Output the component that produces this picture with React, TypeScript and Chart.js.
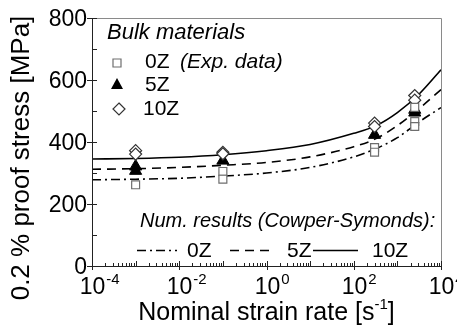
import React, { useEffect, useRef } from "react";
import { Chart, registerables } from "chart.js";

Chart.register(...registerables);

// Measured 0.2 % proof stress (MPa) — repeated tests share a strain rate (1/s)
const rates0Z = [0.001, 0.1, 0.1, 300, 300, 2500, 2500, 2500];
const stress0Z = [262, 305, 280, 382, 367, 512, 466, 450];
const rates5Z = [0.001, 0.001, 0.1, 300, 2500, 2500];
const stress5Z = [321, 307, 340, 423, 504, 495];
const rates10Z = [0.001, 0.001, 0.1, 0.1, 300, 300, 2500, 2500];
const stress10Z = [372, 361, 367, 362, 461, 450, 550, 535];

// Cowper-Symonds model curves, sampled along the rate axis
const fitRates = [1e-4, 1e-3, 1e-2, 1e-1, 1, 10, 100, 316, 1000, 3162, 1e4];
const fit0Z = [278, 280, 283, 290, 300, 318, 352, 378, 414, 465, 511];
const fit5Z = [312, 314, 318, 325, 334, 352, 385, 410, 453, 508, 569];
const fit10Z = [345, 347, 351, 359, 372, 392, 428, 452, 495, 555, 633];

const yTicks = [0, 200, 400, 600, 800];
const xTickExponents = [-4, -2, 0, 2, 4];

const FONT = "'Liberation Sans', Arial, Helvetica, sans-serif";
const DASH_DOT = [9, 4, 2, 4];
const DASHED = [9, 6];

const pts = (xs: number[], ys: number[]) => xs.map((x, i) => ({ x, y: ys[i] }));

function line(ctx: CanvasRenderingContext2D, x1: number, y1: number, x2: number, y2: number) {
  ctx.beginPath();
  ctx.moveTo(x1, y1);
  ctx.lineTo(x2, y2);
  ctx.stroke();
}

const axesAndKeys = {
  id: "axesAndKeys",
  afterDraw(chart: any) {
    const { ctx, chartArea: a, scales } = chart;
    const xs = scales.x;
    const ys = scales.y;
    ctx.save();

    // plot frame
    ctx.lineWidth = 1;
    ctx.strokeStyle = "#8a8a8a";
    ctx.beginPath();
    ctx.moveTo(a.left, a.top + 0.5);
    ctx.lineTo(a.right + 0.5, a.top + 0.5);
    ctx.lineTo(a.right + 0.5, a.bottom);
    ctx.stroke();
    ctx.strokeStyle = "#222";
    ctx.beginPath();
    ctx.moveTo(a.left + 0.5, a.top);
    ctx.lineTo(a.left + 0.5, a.bottom + 0.5);
    ctx.lineTo(a.right, a.bottom + 0.5);
    ctx.stroke();

    // y ticks: inner every 100, outer on labelled values
    for (let v = 0; v <= 800; v += 100) {
      const py = Math.round(ys.getPixelForValue(v)) + 0.5;
      line(ctx, a.left, py, a.left + 5, py);
    }
    ctx.fillStyle = "#000";
    ctx.font = `23px ${FONT}`;
    ctx.textAlign = "right";
    ctx.textBaseline = "middle";
    yTicks.forEach((v) => {
      const py = Math.round(ys.getPixelForValue(v)) + 0.5;
      line(ctx, a.left - 5, py, a.left, py);
      ctx.fillText(String(v), a.left - 5, py + 1);
    });

    // x ticks: decades and minor 2..9
    for (let d = -4; d <= 4; d++) {
      const px = Math.round(xs.getPixelForValue(Math.pow(10, d))) + 0.5;
      line(ctx, px, a.bottom, px, a.bottom - 5);
      if (d < 4) {
        for (let m = 2; m <= 9; m++) {
          const pm = Math.round(xs.getPixelForValue(m * Math.pow(10, d))) + 0.5;
          line(ctx, pm, a.bottom, pm, a.bottom - 3);
        }
      }
    }
    ctx.textBaseline = "alphabetic";
    xTickExponents.forEach((e) => {
      const px = Math.round(xs.getPixelForValue(Math.pow(10, e))) + 0.5;
      line(ctx, px, a.bottom, px, a.bottom + 4);
      ctx.font = `23px ${FONT}`;
      ctx.textAlign = "center";
      const w = ctx.measureText("10").width;
      ctx.fillText("10", px, a.bottom + 28);
      ctx.font = `15px ${FONT}`;
      ctx.textAlign = "left";
      ctx.fillText(String(e), px + w / 2 + 1, a.bottom + 18);
    });

    // x axis title with superscript
    const t1 = "Nominal strain rate [s";
    const sup = "-1";
    const t2 = "]";
    ctx.font = `25px ${FONT}`;
    const w1 = ctx.measureText(t1).width;
    const w3 = ctx.measureText(t2).width;
    ctx.font = `15px ${FONT}`;
    const w2 = ctx.measureText(sup).width;
    const cx = (a.left + a.right) / 2;
    let sx = cx - (w1 + w2 + w3) / 2;
    const base = 320;
    ctx.textAlign = "left";
    ctx.font = `25px ${FONT}`;
    ctx.fillText(t1, sx, base);
    sx += w1;
    ctx.font = `15px ${FONT}`;
    ctx.fillText(sup, sx, base - 11);
    sx += w2;
    ctx.font = `25px ${FONT}`;
    ctx.fillText(t2, sx, base);

    // y axis title
    ctx.save();
    ctx.translate(22, 158);
    ctx.rotate(-Math.PI / 2);
    ctx.textAlign = "center";
    ctx.textBaseline = "middle";
    ctx.font = `26px ${FONT}`;
    ctx.fillText("0.2 % proof stress [MPa]", 0, 0);
    ctx.restore();

    // key: experimental data
    ctx.textAlign = "left";
    ctx.textBaseline = "alphabetic";
    ctx.font = `italic 22px ${FONT}`;
    ctx.fillText("Bulk materials", 107, 39);

    // square
    ctx.lineWidth = 1.2;
    ctx.strokeStyle = "#6e6e6e";
    ctx.fillStyle = "#fff";
    ctx.beginPath();
    ctx.rect(113, 59, 8, 8);
    ctx.fill();
    ctx.stroke();
    ctx.fillStyle = "#000";
    ctx.font = `21px ${FONT}`;
    ctx.fillText("0Z", 145, 68);
    ctx.font = `italic 21px ${FONT}`;
    ctx.fillText("(Exp. data)", 180, 68);

    // triangle
    ctx.fillStyle = "#000";
    ctx.beginPath();
    ctx.moveTo(117, 78);
    ctx.lineTo(123, 89);
    ctx.lineTo(111, 89);
    ctx.closePath();
    ctx.fill();
    ctx.font = `21px ${FONT}`;
    ctx.fillText("5Z", 145, 91);

    // diamond
    ctx.strokeStyle = "#333";
    ctx.fillStyle = "#fff";
    ctx.beginPath();
    ctx.moveTo(119, 103);
    ctx.lineTo(125, 109);
    ctx.lineTo(119, 115);
    ctx.lineTo(113, 109);
    ctx.closePath();
    ctx.fill();
    ctx.stroke();
    ctx.fillStyle = "#000";
    ctx.fillText("10Z", 143, 115);

    // key: model curves
    ctx.font = `italic 20px ${FONT}`;
    ctx.fillText("Num. results (Cowper-Symonds):", 140, 227);
    ctx.strokeStyle = "#000";
    ctx.lineWidth = 1.5;
    const ly = 250.5;
    ctx.setLineDash(DASH_DOT);
    line(ctx, 137, ly, 177, ly);
    ctx.setLineDash(DASHED);
    line(ctx, 230, ly, 275, ly);
    ctx.setLineDash([]);
    line(ctx, 313, ly, 358, ly);
    ctx.font = `21px ${FONT}`;
    ctx.fillText("0Z", 187, 257);
    ctx.fillText("5Z", 287, 257);
    ctx.fillText("10Z", 372, 257);

    ctx.restore();
  },
};

export default function App() {
  const ref = useRef<HTMLCanvasElement>(null);

  useEffect(() => {
    const canvas = ref.current;
    if (!canvas) return;
    const chart = new Chart(canvas, {
      type: "scatter",
      data: {
        datasets: [
          {
            label: "0Z (Exp. data)",
            data: pts(rates0Z, stress0Z),
            pointStyle: "rect",
            pointRadius: 5.6,
            borderColor: "#6e6e6e",
            backgroundColor: "#fff",
            borderWidth: 1.2,
            order: 1,
          },
          {
            label: "10Z",
            data: pts(rates10Z, stress10Z),
            pointStyle: "rectRot",
            pointRadius: 6,
            borderColor: "#333",
            backgroundColor: "#fff",
            borderWidth: 1.2,
            order: 2,
          },
          {
            label: "5Z",
            data: pts(rates5Z, stress5Z),
            pointStyle: "triangle",
            pointRadius: 7,
            borderColor: "#000",
            backgroundColor: "#000",
            borderWidth: 1,
            order: 3,
          },
          {
            label: "0Z model",
            data: pts(fitRates, fit0Z),
            showLine: true,
            pointRadius: 0,
            borderColor: "#000",
            borderWidth: 1.6,
            borderDash: DASH_DOT,
            cubicInterpolationMode: "monotone",
            order: 4,
          },
          {
            label: "5Z model",
            data: pts(fitRates, fit5Z),
            showLine: true,
            pointRadius: 0,
            borderColor: "#000",
            borderWidth: 1.6,
            borderDash: DASHED,
            cubicInterpolationMode: "monotone",
            order: 5,
          },
          {
            label: "10Z model",
            data: pts(fitRates, fit10Z),
            showLine: true,
            pointRadius: 0,
            borderColor: "#000",
            borderWidth: 1.6,
            cubicInterpolationMode: "monotone",
            order: 6,
          },
        ],
      } as any,
      options: {
        responsive: false,
        animation: false,
        devicePixelRatio: 1,
        layout: { padding: { left: 92, top: 18, right: 16, bottom: 65 } },
        plugins: { legend: { display: false }, tooltip: { enabled: false } },
        events: [],
        scales: {
          x: { type: "logarithmic", min: 1e-4, max: 1e4, display: false },
          y: { type: "linear", min: 0, max: 800, display: false },
        },
      } as any,
      plugins: [axesAndKeys],
    });
    return () => chart.destroy();
  }, []);

  return (
    <div style={{ position: "fixed", left: 0, top: 0, width: 457, height: 331, background: "#fff" }}>
      <canvas ref={ref} width={457} height={331} style={{ width: 457, height: 331, display: "block" }} />
    </div>
  );
}
